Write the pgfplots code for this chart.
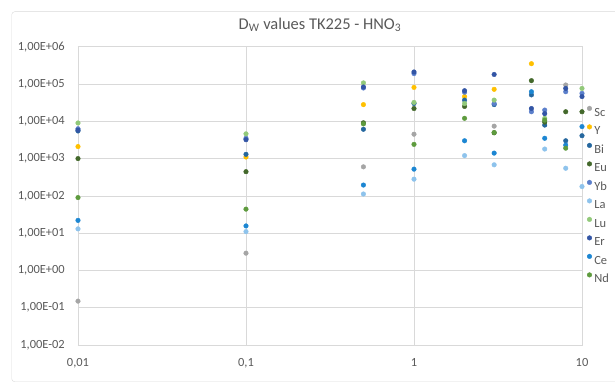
\documentclass[border=0pt]{standalone}
\usepackage{fontspec}
\setmainfont{Carlito}
\usepackage{pgfplots}
\pgfplotsset{compat=1.18}
\definecolor{gridc}{HTML}{D9D9D9}
\definecolor{txtc}{HTML}{595959}
\definecolor{cSc}{HTML}{A5A5A5}
\definecolor{cY}{HTML}{FFC000}
\definecolor{cBi}{HTML}{25679E}
\definecolor{cEu}{HTML}{43682B}
\definecolor{cYb}{HTML}{5B7FCB}
\definecolor{cLa}{HTML}{8EC3EC}
\definecolor{cLu}{HTML}{92C97A}
\definecolor{cEr}{HTML}{3355A5}
\definecolor{cCe}{HTML}{1C86D2}
\definecolor{cNd}{HTML}{5E9B3E}
\begin{document}
\begin{tikzpicture}
\draw[gridc, rounded corners=3bp] (11.7bp,1.3bp) rectangle (660bp,371.3bp);
\begin{axis}[
  scale only axis, width=504bp, height=298.3bp,
  at={(78bp,38bp)}, anchor=south west,
  xmode=log, ymode=log,
  xmin=0.01, xmax=10, ymin=1e-2, ymax=1e6,
  xtick={0.01,0.1,1,10}, xticklabels={{0,01},{0,1},{1},{10}},
  ytick={1e-2,1e-1,1,1e1,1e2,1e3,1e4,1e5,1e6},
  yticklabels={{1,00E-02},{1,00E-01},{1,00E+00},{1,00E+01},{1,00E+02},{1,00E+03},{1,00E+04},{1,00E+05},{1,00E+06}},
  minor tick num=0, major tick length=0pt,
  xminorticks=false, yminorticks=false,
  grid=major, major grid style={gridc, line width=0.6bp},
  axis line style={gridc, line width=0.6bp},
  ticklabel style={font=\fontsize{12.5}{14}\selectfont, text=txtc, inner sep=0pt},
  yticklabel style={anchor=east, xshift=-13bp},
  xticklabel style={anchor=north, yshift=-13bp},
  title={D\textsubscript{W} values TK225 - HNO\textsubscript{3}},
  title style={font=\fontsize{16.5}{19}\selectfont, text=txtc, at={(axis description cs:0.480,1.0537)}, anchor=center, inner sep=0pt},
  legend style={at={(axis description cs:1.0099,0.8032)}, anchor=north west, draw=none, fill=none,
    inner sep=0pt, font=\fontsize{12.5}{14}\selectfont, text=txtc, row sep=4.5bp, column sep=1.5bp,
    nodes={inner sep=1bp, text height=9.5bp, text depth=2.5bp}},
  legend cell align=left,
  legend image code/.code={\draw[mark repeat=2,mark phase=2,#1] plot coordinates {(0bp,4.2bp)(4bp,4.2bp)(8bp,4.2bp)};},
  every axis plot/.append style={only marks, mark=*, mark size=2.3bp},
]
\addplot[color=cSc] coordinates {(0.01,0.15) (0.1,2.9) (0.5,600) (1,4500) (3,7400) (8,94000)};
\addlegendentry{Sc}
\addplot[color=cY] coordinates {(0.01,2100) (0.1,1100) (0.5,28000) (1,81000) (2,46000) (3,72000) (5,350000)};
\addlegendentry{Y}
\addplot[color=cBi] coordinates {(0.01,5500) (0.1,1300) (0.5,6100) (1,30000) (2,37000) (3,28000) (5,51000) (6,7900) (8,3000) (10,4100)};
\addlegendentry{Bi}
\addplot[color=cEu] coordinates {(0.01,1000) (0.1,445) (0.5,9100) (1,22000) (2,25000) (3,4900) (5,123000) (6,9500) (8,18000) (10,18000)};
\addlegendentry{Eu}
\addplot[color=cYb] coordinates {(0.01,6300) (0.1,3500) (0.5,78000) (1,190000) (2,60000) (3,30000) (5,18000) (6,20000) (8,62000) (10,56000)};
\addlegendentry{Yb}
\addplot[color=cLa] coordinates {(0.01,13) (0.1,11) (0.5,112) (1,280) (2,1200) (3,680) (6,1800) (8,550) (10,178)};
\addlegendentry{La}
\addplot[color=cLu] coordinates {(0.01,9000) (0.1,4600) (0.5,107000) (1,32000) (2,30000) (3,37000) (6,12000) (10,76000)};
\addlegendentry{Lu}
\addplot[color=cEr] coordinates {(0.01,5800) (0.1,3200) (0.5,83000) (1,210000) (2,66000) (3,180000) (5,22000) (6,16000) (8,76000) (10,46000)};
\addlegendentry{Er}
\addplot[color=cCe] coordinates {(0.01,22) (0.1,15.6) (0.5,195) (1,520) (2,3000) (3,1400) (5,62000) (6,3500) (8,2300) (10,7200)};
\addlegendentry{Ce}
\addplot[color=cNd] coordinates {(0.01,90) (0.1,44) (0.5,8500) (1,2400) (2,12000) (3,5000) (6,10700) (8,1900)};
\addlegendentry{Nd}
\end{axis}
\pgfresetboundingbox
\path (0bp,0bp) rectangle (615bp,383bp);
\end{tikzpicture}
\end{document}
